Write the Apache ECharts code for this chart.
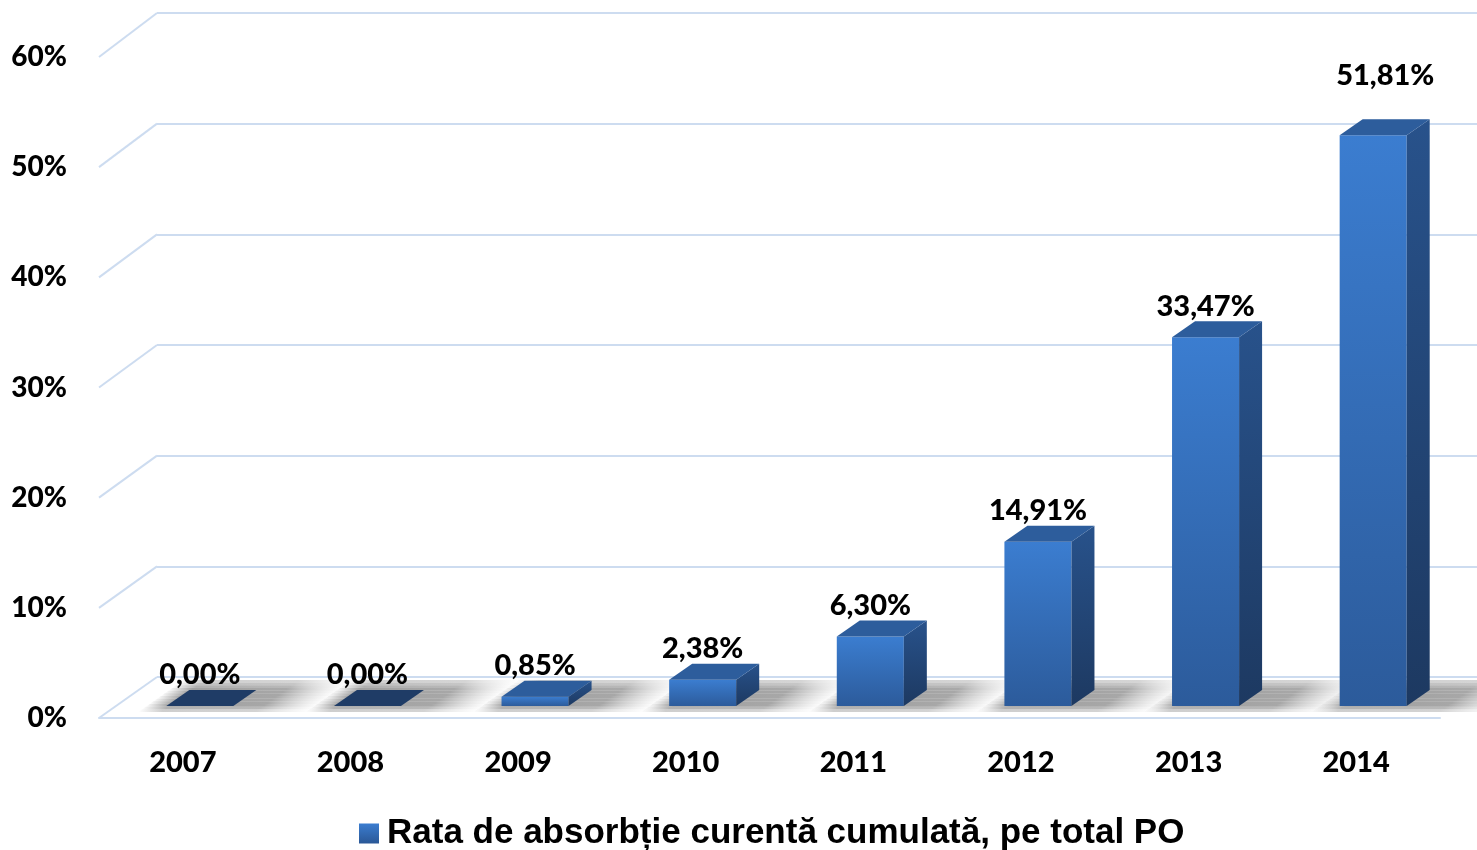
<!DOCTYPE html>
<html><head><meta charset="utf-8">
<script src="https://cdn.jsdelivr.net/npm/echarts@6/dist/echarts.min.js"></script>
<style>html,body{margin:0;padding:0;background:#fff}#c{width:1477px;height:850px}</style>
</head><body><div id="c"></div>
<script>
// ---- data ----
const categories = ['2007', '2008', '2009', '2010', '2011', '2012', '2013', '2014'];
const values = [0.00, 0.00, 0.85, 2.38, 6.30, 14.91, 33.47, 51.81];
const yTicks = [0, 10, 20, 30, 40, 50, 60];
const seriesName = 'Rata de absorbție curentă cumulată, pe total PO';

// ---- style / geometry ----
const FLOOR_DX = 58, FLOOR_DY = 41;   // front edge -> back wall
const BAR_OFF_X = 17, BAR_OFF_Y = 12; // front edge -> bar front face (towards back)
const BAR_DX = 23, BAR_DY = 16;       // bar depth
const GRID_COLOR = '#cddcf0';
const LABEL_FONT = 'Lato, "Open Sans", sans-serif';
const lastLabelShift = [12, -29];

function fmt(v) { return v.toFixed(2).replace('.', ',') + '%'; }

const chart = echarts.init(document.getElementById('c'), null, { renderer: 'canvas' });

function barGeom(api) {
  const i = api.value(0), v = api.value(1);
  const base = api.coord([i, 0]);
  const top = api.coord([i, v]);
  const bw = api.size([1, 0])[0] * 0.4;
  const fx = base[0] + BAR_OFF_X;
  const yB = base[1] - BAR_OFF_Y;
  const yT = top[1] - BAR_OFF_Y;
  return { i, v, fx, yB, yT, xl: fx - bw / 2, xr: fx + bw / 2 };
}

function renderWall(params, api) {
  const cs = params.coordSys;
  const y = api.coord([0, api.value(1)])[1];
  return {
    type: 'line',
    shape: { x1: cs.x, y1: y, x2: cs.x + FLOOR_DX, y2: y - FLOOR_DY - (api.value(1) / 60) * 3 },
    style: { stroke: GRID_COLOR, lineWidth: 2 }
  };
}

function renderShadow(params, api) {
  const g = barGeom(api);
  const yb = g.yB + 6, yt = g.yB - 26;
  const L = g.xl - 28, R = g.xl + 142 + g.v * 0.3;
  const N = 12;
  const k = FLOOR_DX / FLOOR_DY;
  const children = [];
  for (let s = 0; s < N; s++) {
    const y0 = yb - (yb - yt) * s / N;
    const y1 = yb - (yb - yt) * (s + 1) / N;
    const t = (s + 0.5) / N;
    let a = 1;
    if (t < 0.18) a = 0.35 + t / 0.18 * 0.65;
    else if (t > 0.7) a = 1 - (t - 0.7) / 0.3 * 0.6;
    const sl0 = (yb - y0) * k, sl1 = (yb - y1) * k;
    children.push({
      type: 'polygon',
      shape: { points: [[L + sl0, y0], [R + sl0, y0], [R + sl1, y1], [L + sl1, y1]] },
      style: {
        fill: {
          type: 'linear', x: 0, y: 0, x2: 1, y2: 0,
          colorStops: [
            { offset: 0, color: 'rgba(120,120,120,0)' },
            { offset: 0.14, color: 'rgba(120,120,120,' + (a * 0.72).toFixed(3) + ')' },
            { offset: 0.68, color: 'rgba(130,130,130,' + (a * 0.7).toFixed(3) + ')' },
            { offset: 1, color: 'rgba(180,180,180,0)' }
          ]
        }
      }
    });
  }
  return { type: 'group', children };
}

function renderBar(params, api) {
  const g = barGeom(api);
  const { xl, xr, yB, yT } = g;
  const children = [];
  const h = yB - yT;
  if (h > 0.5) {
    children.push({
      type: 'polygon',
      shape: { points: [[xl, yT], [xr, yT], [xr, yB], [xl, yB]] },
      style: { fill: { type: 'linear', x: 0, y: 0, x2: 0, y2: 1,
        colorStops: [{ offset: 0, color: '#3b7dd0' }, { offset: 1, color: '#2c5b9b' }] } }
    });
    children.push({
      type: 'polygon',
      shape: { points: [[xr, yT], [xr + BAR_DX, yT - BAR_DY], [xr + BAR_DX, yB - BAR_DY], [xr, yB]] },
      style: { fill: { type: 'linear', x: 0, y: 0, x2: 0, y2: 1,
        colorStops: [{ offset: 0, color: '#28528b' }, { offset: 1, color: '#1d3961' }] } }
    });
  }
  children.push({
    type: 'polygon',
    shape: { points: [[xl, yT], [xr, yT], [xr + BAR_DX, yT - BAR_DY], [xl + BAR_DX, yT - BAR_DY]] },
    style: { fill: h > 0.5 ? '#2d5d9c' : '#1f3c66' }
  });
  const last = g.i === values.length - 1;
  children.push({
    type: 'text',
    style: {
      text: fmt(g.v),
      x: g.fx + (last ? lastLabelShift[0] : 0),
      y: yT - BAR_DY - 15 + (last ? lastLabelShift[1] : 0),
      align: 'center', verticalAlign: 'middle',
      fontFamily: LABEL_FONT, fontWeight: 900, fontSize: 29, fill: '#000'
    }
  });
  return { type: 'group', children };
}

const barData = values.map((v, i) => [i, v]);

chart.setOption({
  animation: false,
  backgroundColor: '#fff',
  grid: [
    { left: 157, right: 0, top: 13, height: 664 },
    { left: 99, top: 57, width: 1341, height: 661 }
  ],
  xAxis: [
    { gridIndex: 0, type: 'category', data: categories, axisLine: { show: false },
      axisTick: { show: false }, axisLabel: { show: false } },
    { gridIndex: 1, type: 'category', data: categories,
      axisLine: { show: true, lineStyle: { color: GRID_COLOR, width: 2 } },
      axisTick: { show: false },
      axisLabel: { fontFamily: LABEL_FONT, fontWeight: 900, fontSize: 29, color: '#000', margin: 30 } }
  ],
  yAxis: [
    { gridIndex: 0, type: 'value', min: 0, max: 60, interval: 10,
      axisLine: { show: false }, axisTick: { show: false }, axisLabel: { show: false },
      splitLine: { lineStyle: { color: GRID_COLOR, width: 2 } } },
    { gridIndex: 1, type: 'value', min: 0, max: 60, interval: 10,
      axisLine: { show: false }, axisTick: { show: false }, splitLine: { show: false },
      axisLabel: { formatter: '{value}%', fontFamily: LABEL_FONT, fontWeight: 900, fontSize: 28, color: '#000', margin: 32, padding: [6, 0, 0, 0] } }
  ],
  legend: {
    data: [{ name: seriesName, icon: 'rect' }],
    left: 359, top: 816, padding: 0, itemWidth: 20, itemHeight: 20,
    textStyle: { fontFamily: '"Liberation Sans", Arial, sans-serif', fontWeight: 'bold', fontSize: 35, color: '#000', padding: [0, 0, 0, 3] }
  },
  series: [
    { type: 'custom', name: 'walls', xAxisIndex: 1, yAxisIndex: 1, z: 1,
      data: yTicks.map(v => [0, v]), renderItem: renderWall, silent: true },
    { type: 'custom', name: 'shadows', xAxisIndex: 1, yAxisIndex: 1, z: 2,
      data: barData, renderItem: renderShadow, silent: true },
    { type: 'custom', name: seriesName, xAxisIndex: 1, yAxisIndex: 1, z: 3,
      data: barData, renderItem: renderBar,
      itemStyle: { color: { type: 'linear', x: 0, y: 0, x2: 0, y2: 1,
        colorStops: [{ offset: 0, color: '#3b7dd0' }, { offset: 1, color: '#2a5796' }] } } }
  ]
});
</script></body></html>
